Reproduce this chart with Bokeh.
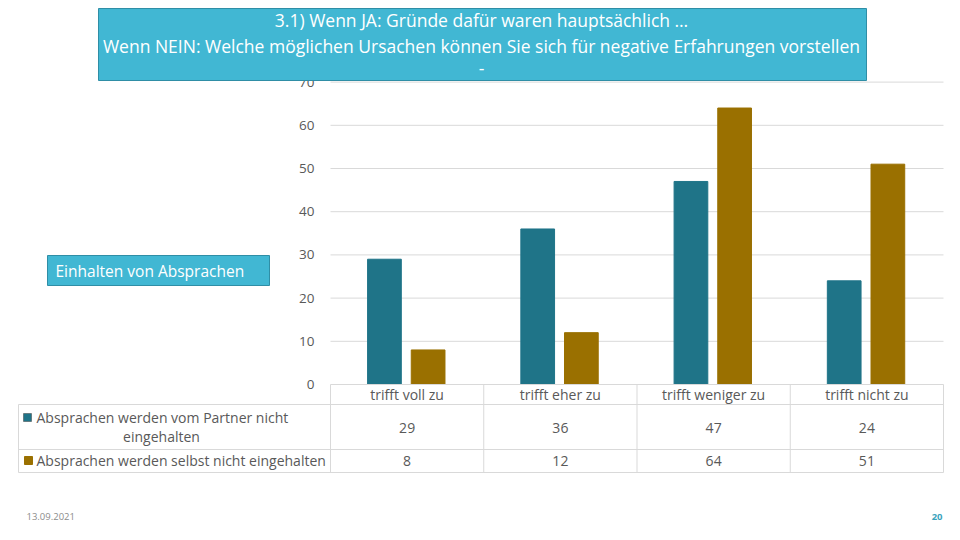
from bokeh.plotting import figure
from bokeh.embed import file_html
from bokeh.resources import INLINE
from bokeh.core.properties import value
from bokeh.models import ColumnDataSource
from bokeh.transform import dodge

# ---- data ----
categories = ["trifft voll zu", "trifft eher zu", "trifft weniger zu", "trifft nicht zu"]
series_names = ["Absprachen werden vom Partner nicht eingehalten",
                "Absprachen werden selbst nicht eingehalten"]
partner = [29, 36, 47, 24]
selbst = [8, 12, 64, 51]
y_ticks = [0, 10, 20, 30, 40, 50, 60, 70]
title_lines = ["3.1) Wenn JA: Gründe dafür waren hauptsächlich …",
               "Wenn NEIN: Welche möglichen Ursachen können Sie sich für negative Erfahrungen vorstellen",
               "-"]
subtitle = "Einhalten von Absprachen"
date_text = "13.09.2021"
page_no = "20"

TEAL = "#1F7488"
GOLD = "#9A7000"
CYAN = "#41B7D3"
CYAN_BORDER = "#2F8EA6"
GRID = "#D9D9D9"
TXT = "#595959"
FONT = "Open Sans"

W, H = 944, 524
UX = (943 - 330) / 4   # px per category
UY = 4.32              # px per value unit
X0 = -330 / UX
X1 = X0 + W / UX
Y1 = 384 / UY
Y0 = Y1 - H / UY


def X(px):
    return X0 + px / UX


def Y(py):
    return Y1 - py / UY


p = figure(width=W, height=H, x_range=(X0, X1), y_range=(Y0, Y1),
           output_backend="svg", toolbar_location=None, title=None,
           min_border=0, outline_line_color=None)
p.axis.visible = False
p.grid.visible = False
p.background_fill_color = "white"
p.border_fill_color = "white"

n = len(categories)
xs = [i + 0.5 for i in range(n)]

# grid lines
p.segment(x0=[0] * (len(y_ticks) - 1), x1=[n] * (len(y_ticks) - 1),
          y0=y_ticks[1:], y1=y_ticks[1:], line_color=GRID, line_width=1)

# y tick labels
p.text(x=[X(314)] * len(y_ticks), y=y_ticks, text=[str(t) for t in y_ticks],
       text_font=value(FONT), text_font_size="13.5px", text_color=TXT,
       text_align="right", text_baseline="middle")

# bars
src = ColumnDataSource(dict(x=xs, partner=partner, selbst=selbst))
p.vbar(x=dodge("x", -0.148, range=p.x_range), top="partner", width=0.22,
       bottom=0, source=src, fill_color=TEAL, line_color=TEAL)
p.vbar(x=dodge("x", 0.137, range=p.x_range), top="selbst", width=0.22,
       bottom=0, source=src, fill_color=GOLD, line_color=GOLD)

# table lines
yt, yh, yr1, yb = Y(384), Y(404), Y(449), Y(472)
xl = X(18)
hx0 = [0, xl, xl, xl]
hx1 = [n, n, n, n]
hy = [yt, yh, yr1, yb]
p.segment(x0=hx0, x1=hx1, y0=hy, y1=hy, line_color=GRID, line_width=1)
vx = [xl] + list(range(n + 1))
vy0 = [yh] + [yt] * (n + 1)
vy1 = [yb] * (n + 2)
p.segment(x0=vx, x1=vx, y0=vy0, y1=vy1, line_color=GRID, line_width=1)

# table header (categories)
p.text(x=xs, y=[Y(394)] * n, text=categories, text_font=value(FONT),
       text_font_size="14px", text_color=TXT, text_align="center",
       text_baseline="middle")
# table values
p.text(x=xs, y=[Y(427)] * n, text=[str(v) for v in partner], text_font=value(FONT),
       text_font_size="14px", text_color=TXT, text_align="center",
       text_baseline="middle")
p.text(x=xs, y=[Y(460)] * n, text=[str(v) for v in selbst], text_font=value(FONT),
       text_font_size="14px", text_color=TXT, text_align="center",
       text_baseline="middle")

# legend cells
p.rect(x=[X(27)], y=[Y(417)], width=8 / UX, height=8 / UY,
       fill_color=TEAL, line_color="#404040", line_width=0.5)
p.rect(x=[X(28)], y=[Y(460)], width=8 / UX, height=8 / UY,
       fill_color=GOLD, line_color=GOLD)
words = series_names[0].split(" ")
p.text(x=[X(36)], y=[Y(417)], text=[" ".join(words[:-1])], text_font=value(FONT),
       text_font_size="14px", text_color=TXT, text_align="left", text_baseline="middle")
p.text(x=[X(161)], y=[Y(436)], text=[words[-1]], text_font=value(FONT),
       text_font_size="14px", text_color=TXT, text_align="center", text_baseline="middle")
p.text(x=[X(36)], y=[Y(460)], text=[series_names[1]], text_font=value(FONT),
       text_font_size="14px", text_color=TXT, text_align="left", text_baseline="middle")

# title box
p.quad(left=[X(98)], right=[X(866)], top=[Y(8)], bottom=[Y(80)],
       fill_color=CYAN, line_color=CYAN_BORDER, line_width=1)
p.text(x=[X(481)] * 3, y=[Y(19), Y(45), Y(68)], text=title_lines,
       text_font=value(FONT), text_font_size="17.5px", text_color="white",
       text_align="center", text_baseline="middle")

# subtitle box
p.quad(left=[X(47)], right=[X(269)], top=[Y(255)], bottom=[Y(285)],
       fill_color=CYAN, line_color=CYAN_BORDER, line_width=1)
p.text(x=[X(55)], y=[Y(270)], text=[subtitle], text_font=value(FONT),
       text_font_size="15.5px", text_color="white", text_align="left",
       text_baseline="middle")

# footer
p.text(x=[X(26)], y=[Y(516)], text=[date_text], text_font=value(FONT),
       text_font_size="9.5px", text_color="#8C8C8C", text_align="left",
       text_baseline="middle")
p.text(x=[X(942)], y=[Y(516)], text=[page_no], text_font=value(FONT),
       text_font_size="9.5px", text_color="#3AA3BD", text_font_style="bold",
       text_align="right", text_baseline="middle")

open("out.html", "w").write(file_html(p, INLINE))
